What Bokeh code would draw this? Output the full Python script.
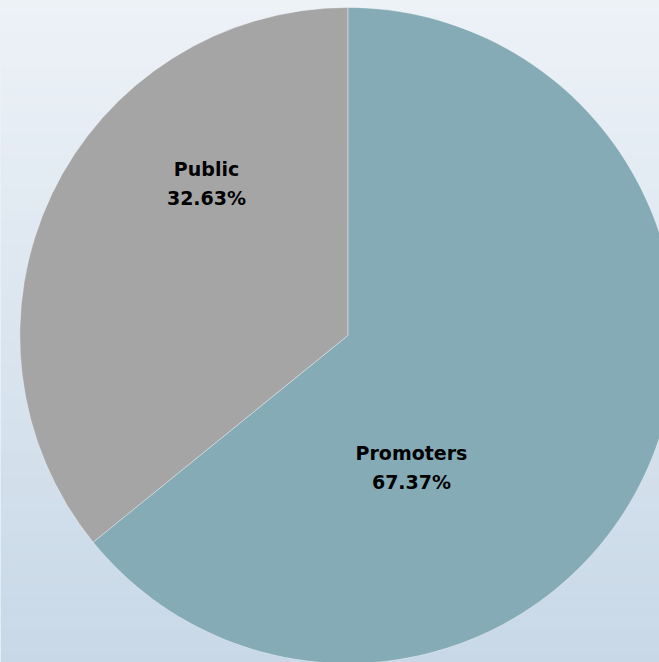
import numpy as np
from bokeh.plotting import figure
from bokeh.models import ColumnDataSource
from bokeh.core.properties import value
from bokeh.embed import file_html
from bokeh.resources import INLINE

# ---- data ----
categories = ["Promoters", "Public"]
label_pcts = ["67.37%", "32.63%"]
slice_shares = [64.15, 35.85]          # slice sizes as drawn in the picture
slice_colors = ["#84ABB6", "#A5A5A5"]
label_dx = [63.7, -141.3]               # label offsets from pie centre (px)
label_dy = [-132.0, 152.0]

W, H = 659, 662
cx, cy, R = 347.3, H - 335.0, 328.0

p = figure(width=W, height=H, output_backend="svg", toolbar_location=None,
           x_range=(0, W), y_range=(0, H), min_border=0)
p.axis.visible = False
p.grid.visible = False
p.outline_line_color = None
p.background_fill_color = "#DDE6EF"
p.border_fill_color = "#DDE6EF"

# vertical background gradient (screen top -> bottom)
n = 60
top = np.array([237, 242, 247])
bot = np.array([200, 216, 231])
edges = np.linspace(0, H, n + 1)
cols = []
for i in range(n):
    t = (edges[i] + edges[i + 1]) / 2 / H
    c = (top * (1 - t) + bot * t).round().astype(int)
    cols.append("#%02x%02x%02x" % tuple(c))
p.quad(left=0, right=W, top=H - edges[:-1], bottom=H - edges[1:] - 0.5,
       fill_color=cols, line_color=None)

# wedges: Public from 90 deg counter-clockwise, Promoters the rest
fr = np.array(slice_shares) / sum(slice_shares)
pub_start = np.pi / 2
pub_end = pub_start + fr[1] * 2 * np.pi
starts = [pub_end, pub_start]
ends = [pub_start + 2 * np.pi, pub_end]
src = ColumnDataSource(dict(start=starts, end=ends, color=slice_colors))
p.wedge(x=cx, y=cy, radius=R, start_angle="start", end_angle="end",
        fill_color="color", line_color="white", line_width=0.6, line_alpha=0.6,
        source=src)

lx = [cx + d for d in label_dx]
ly = [cy + d for d in label_dy]
font = value("DejaVu Sans")
p.text(x=lx, y=[y + 14.5 for y in ly], text=categories, text_align="center",
       text_baseline="middle", text_font=font, text_font_style="bold",
       text_font_size="19px", text_color="black")
p.text(x=lx, y=[y - 14.5 for y in ly], text=label_pcts, text_align="center",
       text_baseline="middle", text_font=font, text_font_style="bold",
       text_font_size="19px", text_color="black")

open("out.html", "w").write(file_html(p, INLINE))
